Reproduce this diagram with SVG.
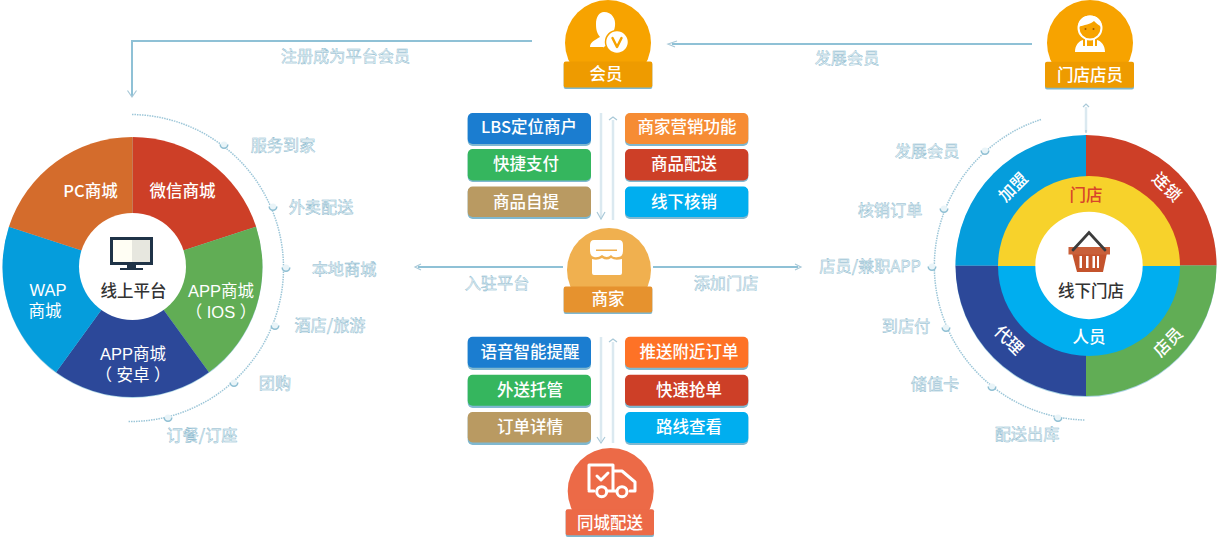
<svg xmlns="http://www.w3.org/2000/svg" width="1217" height="537" viewBox="0 0 1217 537">
<style>
text{font-family:"Noto Sans CJK SC","Liberation Sans",sans-serif;text-anchor:middle}
.w{fill:#fff;font-size:16.500px;font-weight:500}
.m{font-family:"Liberation Sans","Noto Sans CJK SC",sans-serif;font-weight:400}
.d{fill:#333;font-size:16.500px;font-weight:500}
.l{fill:#e6f1f6;stroke:#84b5cb;stroke-width:.4px;font-size:16.200px}
.line{fill:none;stroke:#8fc1d6;stroke-width:2}
.thin{fill:none;stroke:#dbe9f0;stroke-width:2.500}
.ah{fill:none;stroke:#a9c9d8;stroke-width:1.200}
.dot{fill:none;stroke:#9cc6d8;stroke-width:1.500;stroke-dasharray:1.500 1}
.ic{fill:#fff}
.is{fill:none;stroke:#fff;stroke-width:3;stroke-linecap:round;stroke-linejoin:round}
.edge{fill:#7fb8d0}
</style>
<defs>
<g id="bt"><circle r="3.500" fill="#e9f4f8"/><path d="M-3.800 -.5A3.800 3.800 0 0 0 3.800 -.5" fill="none" stroke="#8fbfd3" stroke-width="1.500"/></g>
</defs>

<g id="connectors">
<path class="line" d="M532 41H132V96"/>
<path class="ah" d="M127.500 90.500L132 97L136.500 90.500"/>
<path class="line" d="M1032 44H672"/>
<path class="ah" d="M677 41L668 44L675 47"/>
<path class="line" d="M563 267H418"/>
<path class="ah" d="M421 264L415 267L421 270"/>
<path class="line" d="M653 267H798"/>
<path class="ah" d="M795 264L801 267L795 270"/>
<path class="thin" d="M1086 107V132"/>
<path class="ah" d="M1083 107L1086 104L1089 107M1086 130V133"/>
<path class="thin" d="M601 113V217"/>
<path class="ah" d="M597 212L601 219L605 212"/>
<path class="thin" d="M613 120V220"/>
<path class="ah" d="M609 120L613 117L617 120"/>
<path class="thin" d="M601 337V441"/>
<path class="ah" d="M597 437L601 443L605 437"/>
<path class="thin" d="M613 342V443"/>
<path class="ah" d="M609 342L613 339L617 342"/>
</g>

<g id="platform-wheel">
<circle cx="132.500" cy="268" r="130" fill="#a9d3e3"/>
<path fill="#cd3f27" d="M132.500 267V137A130 130 0 0 1 256.100 226.800Z"/>
<path fill="#61ad55" d="M132.500 267L256.100 226.800A130 130 0 0 1 208.900 372.200Z"/>
<path fill="#2c4899" d="M132.500 267L208.900 372.200A130 130 0 0 1 56.100 372.200Z"/>
<path fill="#059ddc" d="M132.500 267L56.100 372.200A130 130 0 0 1 8.900 226.800Z"/>
<path fill="#d46c2c" d="M132.500 267L8.900 226.800A130 130 0 0 1 132.500 137Z"/>
<circle cx="132.500" cy="266.500" r="53.500" fill="#fff"/>
<path fill="#1f3347" d="M110 237H153V265H136V268H143V270H120V268H127V265H110Z"/>
<rect x="113" y="240" width="19" height="22" fill="#fffef4"/>
<rect x="132" y="240" width="18" height="22" fill="#e7e7df"/>
<text class="d" x="133.500" y="297">线上平台</text>
<text class="w" x="182.500" y="197">微信商城</text>
<text class="w" x="90.500" y="197">PC商城</text>
<text class="w m" y="297"><tspan x="221">APP商城</tspan><tspan x="221" dy="20.500">（ IOS ）</tspan></text>
<text class="w m" y="360"><tspan x="133">APP商城</tspan><tspan x="133" dy="20.500">（ 安卓 ）</tspan></text>
<text class="w m" y="296"><tspan x="48">WAP</tspan><tspan x="45" dy="21">商城</tspan></text>
<path class="dot" d="M132 114.500A153.500 153.500 0 0 1 128 421.500"/>
<use href="#bt" x="224" y="145"/><use href="#bt" x="273" y="207"/><use href="#bt" x="286" y="268"/><use href="#bt" x="275" y="326"/><use href="#bt" x="234" y="383"/><use href="#bt" x="168" y="418"/>
<text class="l" x="283" y="151">服务到家</text>
<text class="l" x="321" y="213">外卖配送</text>
<text class="l" x="344" y="275">本地商城</text>
<text class="l" x="330" y="331">酒店/旅游</text>
<text class="l" x="275" y="389">团购</text>
<text class="l" x="202" y="441">订餐/订座</text>
</g>

<g id="store-wheel">
<circle cx="1086" cy="266.500" r="130.500" fill="#a9d3e3"/>
<path fill="#cd3f27" d="M1086 265.500V135A130.500 130.500 0 0 1 1216.500 265.500Z"/>
<path fill="#61ad55" d="M1086 265.500H1216.500A130.500 130.500 0 0 1 1086 396Z"/>
<path fill="#2c4899" d="M1086 265.500V396A130.500 130.500 0 0 1 955.500 265.500Z"/>
<path fill="#059ddc" d="M1086 265.500H955.500A130.500 130.500 0 0 1 1086 135Z"/>
<path fill="#f7d22b" d="M998 266A91 90 0 0 1 1180 266Z"/>
<path fill="#00aeef" d="M998 266A91 90 0 0 0 1180 266Z"/>
<circle cx="1089" cy="265.500" r="53.700" fill="#fff"/>
<path fill="#c4532c" d="M1072 253H1107L1103 272H1077Z"/>
<rect x="1068.500" y="247" width="41.500" height="7.500" fill="#c9603a"/>
<path fill="#fff" d="M1079.500 256h2.500v12h-2.500zM1086 256h2.500v12H1086zM1092.500 256h2.500v12h-2.500zM1099 256h-2v12h2z"/>
<path fill="none" stroke="#3c3c3c" stroke-width="2.800" stroke-linecap="round" d="M1073 250L1089 232.500L1105 250"/>
<text class="d" x="1091" y="297">线下门店</text>
<text x="1086" y="201" font-size="16.500" fill="#d8452a" font-weight="500">门店</text>
<text class="w" x="1089" y="343">人员</text>
<text class="w" transform="translate(1013 187) rotate(-45)" y="6">加盟</text>
<text class="w" transform="translate(1167 187) rotate(45)" y="6">连锁</text>
<text class="w" transform="translate(1009 340) rotate(45)" y="6">代理</text>
<text class="w" transform="translate(1168 342) rotate(-45)" y="6">店员</text>
<path class="dot" d="M1041 119.500A154 154 0 0 0 1085 420"/>
<use href="#bt" x="985" y="151"/><use href="#bt" x="944" y="209"/><use href="#bt" x="932" y="267"/><use href="#bt" x="946" y="328"/><use href="#bt" x="992" y="387"/><use href="#bt" x="1058" y="418"/>
<text class="l" x="927" y="157">发展会员</text>
<text class="l" x="890" y="216">核销订单</text>
<text class="l" x="870" y="272">店员/兼职APP</text>
<text class="l" x="906" y="332">到店付</text>
<text class="l" x="935" y="390">储值卡</text>
<text class="l" x="1027" y="440">配送出库</text>
</g>

<g id="edge-labels">
<text class="l" x="345.500" y="62">注册成为平台会员</text>
<text class="l" x="847" y="64">发展会员</text>
<text class="l" x="497" y="289">入驻平台</text>
<text class="l" x="726" y="289">添加门店</text>
</g>

<g id="member">
<circle cx="608" cy="43" r="43" fill="#f7a300"/>
<path class="ic" d="M604 12C612 12 616 19 615 26C614 33 611 36 609 38L611 43C606 46 603 47 603 48L604 47L606 47H590C590 42 595 40 600 37C597 33 596 30 596 24C596 17 599 12 604 12Z"/>
<circle cx="617" cy="42" r="11.500" fill="#fff" stroke="#f7a300" stroke-width="1.500"/>
<path fill="none" stroke="#f7a300" stroke-width="2.500" stroke-linecap="round" stroke-linejoin="round" d="M612.500 38L617 47L621.500 38"/>
<rect x="563.700" y="62.500" width="88.600" height="26.500" rx="2" class="edge"/>
<rect x="563.700" y="61.500" width="88.600" height="26" rx="2" fill="#ee9b00"/>
<text class="w" x="606" y="80">会员</text>
</g>

<g id="merchant">
<circle cx="609" cy="270" r="42" fill="#f0b04f"/>
<path class="ic" d="M594 240H619Q623 240 623 245V251Q623 257 618 257Q613 258 611 255Q607 259 602 255Q598 258 594 257Q590 256 590 251V245Q590 240 594 240Z"/>
<path fill="#fff" d="M592 259Q597 261 602 258Q607 261 611 258Q615 261 622 259V273Q622 275 620 275H594Q592 275 592 273Z"/>
<rect x="596" y="249.500" width="21" height="1.500" fill="#f0b04f"/>
<rect x="563.700" y="287.500" width="88.600" height="26.500" rx="2" class="edge"/>
<rect x="563.700" y="286.500" width="88.600" height="26" rx="2" fill="#e6922e"/>
<text class="w" x="608" y="305">商家</text>
</g>

<g id="delivery">
<circle cx="610.700" cy="491" r="43" fill="#ec6a47"/>
<path class="is" d="M589 490V465H613V491M613 471H622L635 482V491H630M594 491H589M607 491H616"/>
<circle cx="601.700" cy="491.700" r="5" fill="none" stroke="#fff" stroke-width="3"/>
<circle cx="622" cy="491.700" r="5" fill="none" stroke="#fff" stroke-width="3"/>
<path class="is" d="M597 476L601 480L608 473"/>
<rect x="565.700" y="510" width="88.300" height="27" rx="2" class="edge"/>
<rect x="565.700" y="509.300" width="88.300" height="26" rx="2" fill="#ec6a47"/>
<text class="w" x="610" y="529">同城配送</text>
</g>

<g id="store-staff">
<circle cx="1090" cy="43" r="43" fill="#f7a300"/>
<circle cx="1090" cy="28" r="11.500" fill="none" stroke="#fff" stroke-width="2"/>
<path class="ic" d="M1078 27C1078 20 1083 15.500 1090 15.500C1097 15.500 1102 20 1102 27C1098 25 1096 23 1094 21C1091 24 1084 25 1078 27Z"/>
<circle cx="1085.500" cy="29" r="1" fill="#a05a00"/><circle cx="1093.500" cy="29" r="1" fill="#a05a00"/>
<path class="ic" d="M1075 52C1075 45 1079 41 1083 40V46H1097V40C1101 41 1105 45 1105 52Z"/>
<rect x="1085" y="39" width="2" height="8" fill="#fff"/><rect x="1093" y="39" width="2" height="8" fill="#fff"/>
<rect x="1045" y="63" width="89" height="26.500" rx="2" class="edge"/>
<rect x="1045" y="61.700" width="89" height="26" rx="2" fill="#ee9b00"/>
<text class="w" x="1090" y="81">门店店员</text>
</g>

<g id="btn-lbs"><rect x="467.700" y="114" width="123.300" height="32" rx="5" class="edge"/><rect x="467.700" y="113" width="123.300" height="31" rx="5" fill="#1b7dd0"/><text class="w" x="529" y="133">LBS定位商户</text></g>
<g id="btn-pay"><rect x="467.700" y="150" width="123.300" height="32" rx="5" class="edge"/><rect x="467.700" y="149" width="123.300" height="31.500" rx="5" fill="#35b65e"/><text class="w" x="526" y="170">快捷支付</text></g>
<g id="btn-pick"><rect x="467.700" y="187" width="123.300" height="32" rx="5" class="edge"/><rect x="467.700" y="186.500" width="123.300" height="30.500" rx="5" fill="#b99a62"/><text class="w" x="526" y="208">商品自提</text></g>
<g id="btn-mkt"><rect x="625" y="114" width="123.300" height="32" rx="5" class="edge"/><rect x="625" y="113" width="123.300" height="31" rx="5" fill="#f68c34"/><text class="w" x="687" y="133">商家营销功能</text></g>
<g id="btn-ship"><rect x="625" y="150" width="123.300" height="32" rx="5" class="edge"/><rect x="625" y="149" width="123.300" height="31.500" rx="5" fill="#cd3f27"/><text class="w" x="684" y="170">商品配送</text></g>
<g id="btn-verify"><rect x="625" y="187" width="123.300" height="32" rx="5" class="edge"/><rect x="625" y="186.500" width="123.300" height="30.500" rx="5" fill="#00aeef"/><text class="w" x="684" y="208">线下核销</text></g>
<g id="btn-voice"><rect x="467.700" y="338" width="123.300" height="32" rx="5" class="edge"/><rect x="467.700" y="336.700" width="123.300" height="31" rx="5" fill="#1b7dd0"/><text class="w" x="530" y="358">语音智能提醒</text></g>
<g id="btn-host"><rect x="467.700" y="376" width="123.300" height="32" rx="5" class="edge"/><rect x="467.700" y="374.700" width="123.300" height="31" rx="5" fill="#35b65e"/><text class="w" x="530" y="396">外送托管</text></g>
<g id="btn-detail"><rect x="467.700" y="413" width="123.300" height="32" rx="5" class="edge"/><rect x="467.700" y="412" width="123.300" height="30.500" rx="5" fill="#b99a62"/><text class="w" x="530" y="433">订单详情</text></g>
<g id="btn-push"><rect x="625" y="338" width="123.300" height="32" rx="5" class="edge"/><rect x="625" y="336.700" width="123.300" height="31" rx="5" fill="#fe7226"/><text class="w" x="689" y="358">推送附近订单</text></g>
<g id="btn-grab"><rect x="625" y="376" width="123.300" height="32" rx="5" class="edge"/><rect x="625" y="374.700" width="123.300" height="31" rx="5" fill="#cd3f27"/><text class="w" x="689" y="396">快速抢单</text></g>
<g id="btn-route"><rect x="625" y="413" width="123.300" height="32" rx="5" class="edge"/><rect x="625" y="412" width="123.300" height="31" rx="5" fill="#00aeef"/><text class="w" x="689" y="433">路线查看</text></g>
</svg>
